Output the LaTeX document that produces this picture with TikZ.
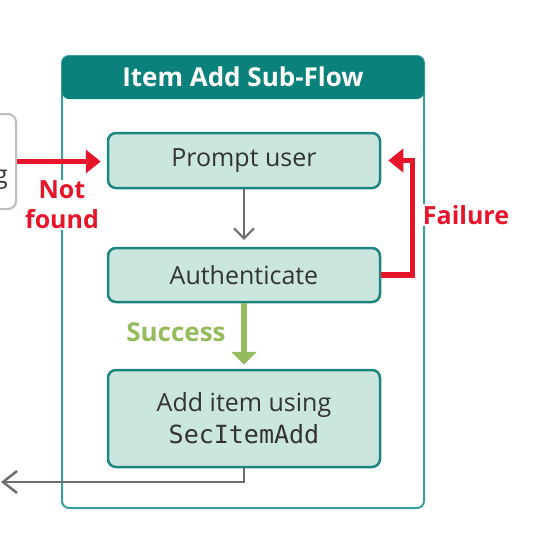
\documentclass[tikz,border=0pt]{standalone}
\usepackage{fontspec}
\setmainfont{Open Sans}
\setmonofont{DejaVu Sans Mono}
\usetikzlibrary{arrows.meta}
\definecolor{hdr}{HTML}{0A817B}
\definecolor{frm}{HTML}{3A9E9A}
\definecolor{boxfill}{HTML}{CBE6DE}
\definecolor{boxline}{HTML}{1B8680}
\definecolor{txt}{HTML}{333333}
\definecolor{red1}{HTML}{E8142A}
\definecolor{green1}{HTML}{95BC5C}
\definecolor{gray1}{HTML}{6E6E6E}
\definecolor{gray2}{HTML}{BDBDBD}
\tikzset{
  stepbox/.style={draw=boxline, fill=boxfill, line width=2.5pt, rounded corners=8pt,
    minimum width=272pt, text=txt, font=\fontsize{25}{32}\selectfont, align=center, inner sep=0pt},
  redarrow/.style={draw=red1, line width=5.5pt, -{Triangle[length=15pt,width=23pt]}},
  greenarrow/.style={draw=green1, line width=6pt, -{Triangle[length=13pt,width=25pt]}},
  grayarrow/.style={draw=gray1, line width=2pt, -{Straight Barb[length=10pt,width=20pt]}},
  lbl/.style={font=\bfseries\fontsize{25}{30}\selectfont, fill=white, inner sep=1pt, align=center}
}
\begin{document}
\begin{tikzpicture}[x=1pt,y=-1pt]
\useasboundingbox (0,0) rectangle (544,550);
% frame
\node[draw=frm, line width=2pt, rounded corners=7pt, minimum width=362pt, minimum height=452pt, inner sep=0pt] (frame) at (243,282) {};
\fill[hdr, rounded corners=7pt] (62,99) -- (62,56) -- (424,56) -- (424,99) -- cycle;
\node[text=white, font=\bfseries\fontsize{26}{30}\selectfont] (title) at (243,77) {Item Add Sub-Flow};
% previous (cut-off) box
\node[draw=gray2, line width=2pt, rounded corners=8pt, minimum width=90pt, minimum height=95pt, inner sep=0pt] (prev) at (-29,161.5) {};
\node[anchor=base east, text=txt, font=\fontsize{25}{30}\selectfont, inner sep=0pt] (prevtxt) at (8,183) {g};
% steps
\node[stepbox, minimum height=55pt] (prompt) at (244,160.5) {Prompt user};
\node[stepbox, minimum height=54pt] (auth) at (244,275) {Authenticate};
\node[stepbox, minimum height=97pt] (add) at (244,418.5) {Add item using\\{\fontsize{25}{32}\selectfont\texttt{SecItemAdd}}};
% connectors
\draw[grayarrow, shorten >=7pt] (prompt) -- (auth);
\draw[greenarrow, shorten >=4pt] (auth) -- (add);
\draw[redarrow, shorten >=6pt] (prev.east) -- (prev.east -| prompt.west);
\draw[redarrow, shorten >=7pt, line join=miter] (auth.east) -- ++(31,0) |- (prompt.east);
\coordinate (out) at (1,482);
\draw[grayarrow, line width=2.5pt, -{Straight Barb[length=14pt,width=22pt]}] (add.south) |- (out);
% labels
\node[lbl, text=red1] (notfound) at (62,205) {Not\\found};
\node[lbl, text=red1] (failure) at (466,215) {Failure};
\node[lbl, text=green1, fill=none, font=\bfseries\fontsize{26}{30}\selectfont] (success) at (176,332) {Success};
\end{tikzpicture}
\end{document}
